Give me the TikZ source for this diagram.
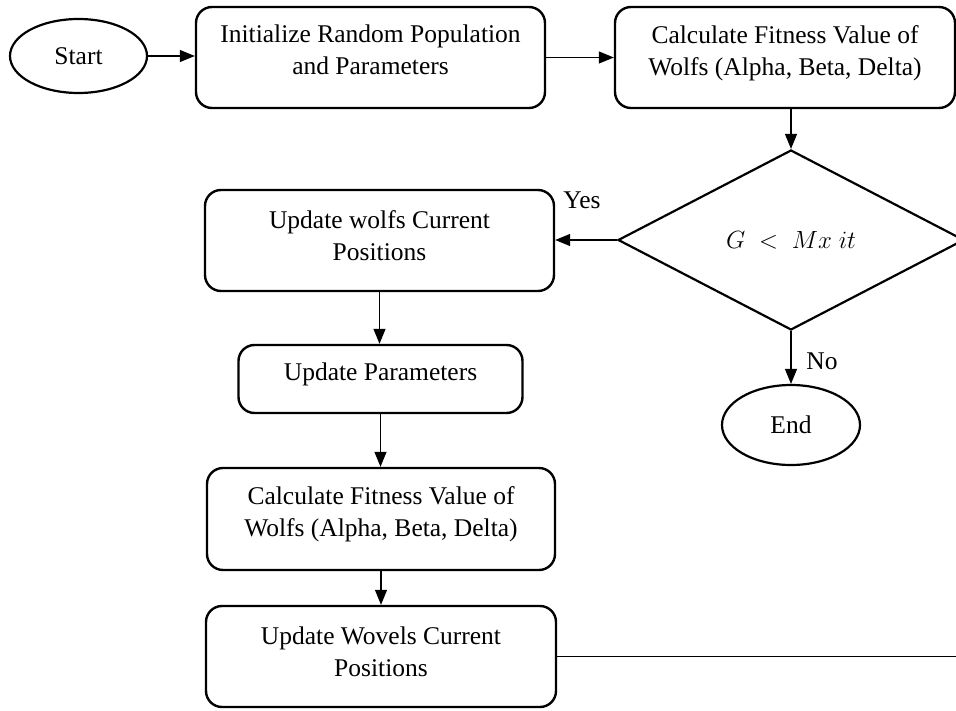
\documentclass[tikz,border=0pt]{standalone}
\usepackage{fontspec}
\setmainfont{Liberation Serif}
\usetikzlibrary{shapes.geometric,arrows.meta}
\begin{document}
\begin{tikzpicture}[x=1pt,y=-1pt,
  font=\fontsize{25.5}{32}\selectfont,
  box/.style={draw,line width=2.4pt,rounded corners=16pt,inner sep=0pt},
  oval/.style={draw,ellipse,line width=2.2pt,inner sep=0pt},
  txt/.style={align=center,inner sep=0pt},
  arr/.style={line width=1.2pt,-{Triangle[length=15pt,width=12pt]}},
  lnk/.style={line width=1.2pt}]
\clip (0,0) rectangle (956,711);
\node[oval,minimum width=137pt,minimum height=74pt] (start) at (78.5,56) {Start};
\node[box,minimum width=349pt,minimum height=101pt] (init) at (370.5,57.5) {};
\node[txt] (initt) at (370.5,50) {Initialize Random Population\\and Parameters};
\node[box,minimum width=340pt,minimum height=101pt] (calc1) at (785,57.5) {};
\node[txt] (calc1t) at (785,53) {Calculate Fitness Value of\\Wolfs (Alpha, Beta, Delta)};
\node[draw,diamond,line width=2.2pt,minimum width=346pt,minimum height=180pt,inner sep=0pt] (dec) at (791,240) {$G\;<\;Mx\;it$};
\node[box,minimum width=349pt,minimum height=101pt] (upd1) at (379.5,240.5) {};
\node[txt] (upd1t) at (379.5,236) {Update wolfs Current\\Positions};
\node[box,minimum width=284pt,minimum height=68pt] (param) at (380.5,379) {};
\node[txt] (paramt) at (380.5,374) {Update Parameters};
\node[box,minimum width=348pt,minimum height=102pt] (calc2) at (381,519) {};
\node[txt] (calc2t) at (381,514) {Calculate Fitness Value of\\Wolfs (Alpha, Beta, Delta)};
\node[box,minimum width=350pt,minimum height=101pt] (wov) at (381,656.5) {};
\node[txt] (wovt) at (381,652) {Update Wovels Current\\Positions};
\node[oval,minimum width=138pt,minimum height=80pt] (end) at (791,425) {End};
\node[txt] (yes) at (582,200) {Yes};
\node[txt] (no) at (822,361) {No};
\coordinate (loop) at (990,656.5);
\draw[arr] (start.east) -- (start.east -| init.west);
\draw[arr] (init.east) -- (init.east -| calc1.west);
\draw[arr] (dec.north |- calc1.south) -- (dec.north);
\draw[arr] (dec.west) -- (dec.west -| upd1.east);
\draw[arr] (upd1.south) -- (upd1.south |- param.north);
\draw[arr] (param.south) -- (param.south |- calc2.north);
\draw[arr] (calc2.south) -- (calc2.south |- wov.north);
\draw[arr] (dec.south) -- (end.north);
\draw[arr] (wov.east) -- (loop) |- (dec.east);
\end{tikzpicture}
\end{document}
